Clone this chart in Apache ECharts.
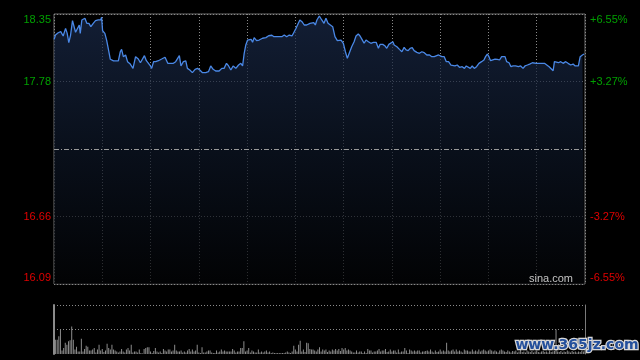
<!DOCTYPE html>
<html><head><meta charset="utf-8">
<script src="https://cdn.jsdelivr.net/npm/echarts@6/dist/echarts.min.js"></script>
<style>html,body{margin:0;padding:0;background:#000;}#c{width:640px;height:360px;}</style>
</head><body><div id="c"></div>
<script>
// minutes since 09:30 (HK session, 330 trading minutes)
const minutes = [
0.1,0.9,2.6,4.2,5.7,7.2,8.2,9.2,10.3,11.5,
12.3,13.4,14.6,15.7,16.3,17.3,19.2,20.4,21.7,22.9,
24.4,25.8,27.5,29.0,29.6,30.2,31.6,32.7,33.7,35.0,
35.8,37.0,40.0,41.2,42.0,43.1,44.5,45.7,47.4,49.1,
50.7,52.4,53.7,54.9,56.2,57.4,58.6,59.9,60.7,61.9,
63.2,64.9,66.9,69.0,70.7,72.7,74.2,75.6,76.7,77.9,
78.9,80.4,81.9,82.9,84.4,86.0,87.7,89.2,90.6,92.3,
94.3,96.0,97.4,98.9,100.5,102.6,104.3,105.7,107.2,108.5,
109.9,111.3,113.0,114.7,116.1,117.2,118.2,119.2,120.3,121.3,
122.5,123.4,124.4,125.9,127.5,129.6,131.7,133.4,134.2,135.4,
136.7,137.9,139.2,140.4,141.6,143.1,144.6,146.2,147.9,149.3,
150.4,151.6,152.8,154.1,155.5,157.0,158.0,159.1,160.3,161.4,
162.4,163.4,164.9,166.4,167.8,169.0,170.3,171.5,173.2,174.6,
176.1,177.3,178.4,179.8,181.1,182.3,183.5,185.0,186.5,187.7,
189.1,190.2,191.4,192.7,193.9,195.4,196.9,198.5,200.2,201.6,
202.7,204.3,205.8,206.8,208.1,209.3,210.6,211.4,213.1,214.7,
216.2,217.6,218.8,220.1,221.3,222.6,223.8,225.5,227.1,228.6,
230.1,231.7,233.4,234.8,236.3,237.5,239.0,240.0,241.1,242.5,
243.8,245.2,246.7,247.9,249.2,250.6,252.0,253.7,255.1,256.2,
257.4,258.7,259.9,261.2,262.6,264.1,265.7,267.2,268.2,269.3,
270.3,271.3,272.4,274.1,275.5,276.9,278.2,279.2,280.3,281.3,
282.8,284.0,285.3,286.9,288.6,290.0,291.5,292.7,294.2,295.6,
297.3,298.5,299.8,301.0,302.3,303.5,304.8,306.0,307.7,308.9,
310.2,311.0,312.2,313.5,314.9,316.4,318.0,319.5,321.1,322.6,
323.9,325.1,325.9,327.0,328.4,329.5
];
const prices = [
18.138,18.174,18.193,18.202,18.166,18.230,18.188,18.110,18.174,18.294,
18.294,18.197,18.197,18.258,18.188,18.300,18.314,18.272,18.272,18.244,
18.272,18.294,18.300,18.300,18.322,18.210,18.188,18.132,18.063,17.971,
17.984,17.957,17.957,18.034,18.054,17.993,18.007,17.951,17.931,17.895,
17.993,17.973,17.942,17.942,18.001,17.959,17.959,17.915,17.895,17.951,
17.951,17.959,17.973,17.988,17.937,17.937,17.937,17.951,17.937,18.001,
17.915,17.951,17.957,17.895,17.881,17.859,17.887,17.895,17.881,17.859,
17.859,17.867,17.915,17.887,17.873,17.873,17.895,17.895,17.937,17.915,
17.881,17.915,17.895,17.923,17.937,17.915,18.021,18.091,18.132,18.127,
18.138,18.113,18.152,18.127,18.132,18.147,18.152,18.168,18.155,18.172,
18.160,18.174,18.160,18.174,18.160,18.174,18.160,18.174,18.166,18.202,
18.230,18.222,18.300,18.286,18.258,18.258,18.244,18.272,18.272,18.277,
18.258,18.300,18.333,18.300,18.272,18.314,18.272,18.286,18.244,18.160,
18.127,18.118,18.132,18.105,18.034,17.979,17.993,18.076,18.118,18.166,
18.183,18.166,18.138,18.105,18.132,18.118,18.105,18.113,18.113,18.063,
18.096,18.096,18.082,18.063,18.096,18.110,18.118,18.091,18.076,18.054,
18.034,18.071,18.049,18.043,18.063,18.068,18.043,18.029,18.021,18.034,
18.026,18.007,18.007,17.993,17.993,17.979,18.007,18.021,17.993,17.993,
17.951,17.951,17.923,17.937,17.915,17.923,17.904,17.909,17.895,17.915,
17.931,17.895,17.915,17.895,17.909,17.937,17.951,17.965,17.993,18.015,
17.993,17.959,17.973,17.973,17.971,17.965,17.993,17.979,17.993,17.951,
17.942,17.909,17.915,17.915,17.909,17.915,17.895,17.915,17.923,17.931,
17.942,17.951,17.937,17.946,17.937,17.951,17.937,17.923,17.909,17.895,
17.875,17.951,17.937,17.942,17.951,17.937,17.951,17.937,17.923,17.931,
17.915,17.931,17.915,17.993,18.007,18.015
];
// per-minute volume, relative units (100 = top of the volume panel)
const volumes = [
100,
29,29,36,49,7,12,23,19,26,28,
56,29,9,15,5,5,31,5,10,17,
15,7,7,9,12,3,9,19,7,10,4,
7,21,12,9,19,9,7,5,3,5,
10,5,3,9,12,7,19,3,5,5,
3,9,2,1,10,12,14,14,5,2,6,
12,5,3,5,2,10,7,5,9,9,
5,7,19,7,5,5,7,3,5,3,
7,10,5,9,5,7,19,3,2,14,3,
3,5,7,7,3,2,2,7,3,5,
9,5,7,5,5,5,5,10,7,3,5,
5,12,12,26,5,7,12,3,7,5,
3,3,9,3,5,3,5,7,3,5,2,
3,2,2,2,2,2,2,2,3,5,
3,2,5,17,9,5,19,27,5,9,4,
23,22,10,9,9,7,5,9,
14,5,9,7,9,4,7,5,9,7,
10,7,10,6,12,9,12,7,9,7,
5,3,3,7,3,5,5,2,5,2,
10,7,7,3,5,5,7,10,5,7,
7,10,4,5,9,5,7,7,3,9,
3,5,5,12,7,2,9,7,5,7,
5,7,7,3,5,5,6,7,5,9,
5,3,7,4,5,9,5,7,5,23,
7,5,7,9,5,9,5,7,5,3,
9,7,7,5,5,9,5,7,5,9,
5,7,9,7,5,7,9,7,5,7,
5,3,7,9,7,5,4,7,5,3,
6,
5,7,3,5,9,4,5,3,7,5,
4,6,3,5,7,4,3,5,6,4,
5,3,7,4,5,6,50,5,4,6,
3,5,4,7,5,3,6,4,5,3,
5,4,6,5,8
];
const priceMin = 16.09, priceMax = 18.35, preClose = 17.22;
const leftTickLabels = ['16.09', '16.66', '', '17.78', '18.35'];
const rightTickLabels = ['-6.55%', '-3.27%', '', '+3.27%', '+6.55%'];
const sessionMinutes = 330;

const GREEN = '#00a000', RED = '#e00000';
const FONT = "'Liberation Sans', Arial, sans-serif";
const richStyles = {
  g: {color: GREEN, fontSize: 11, fontFamily: FONT},
  r: {color: RED, fontSize: 11, fontFamily: FONT},
  gT: {color: GREEN, fontSize: 11, fontFamily: FONT, padding: [12, 0, 0, 0]},
  rB: {color: RED, fontSize: 11, fontFamily: FONT, padding: [0, 0, 12, 0]}
};
function tickFormatter(labels) {
  return function (v) {
    const i = Math.round(v);
    const t = labels[i];
    if (!t) return '';
    const cls = (i >= 3 ? 'g' : 'r') + (i === 4 ? 'T' : (i === 0 ? 'B' : ''));
    return '{' + cls + '|' + t + '}';
  };
}
const volCategories = volumes.map((_, i) => i);
const GRIDC = '#8a8a8a';

const chart = echarts.init(document.getElementById('c'), null, {renderer: 'canvas'});
chart.setOption({
  backgroundColor: '#000',
  animation: false,
  grid: [
    {left: 54, right: 55, top: 14, height: 270, show: true, borderColor: '#6e6e6e', borderWidth: 1, backgroundColor: 'transparent'},
    {left: 54, right: 55, top: 305, bottom: 6}
  ],
  xAxis: [
    {type: 'value', gridIndex: 0, min: 0, max: sessionMinutes, interval: 30,
     axisLine: {show: false}, axisTick: {show: false}, axisLabel: {show: false},
     splitLine: {show: true, lineStyle: {color: GRIDC, type: [1, 2], width: 1}}},
    {type: 'category', gridIndex: 1, data: volCategories, boundaryGap: false,
     axisLine: {show: false}, axisTick: {show: false}, axisLabel: {show: false}, splitLine: {show: false}}
  ],
  yAxis: [
    {type: 'value', gridIndex: 0, min: priceMin, max: priceMax, show: false},
    {type: 'value', gridIndex: 0, min: 0, max: 4, interval: 1, position: 'left',
     axisLine: {show: false}, axisTick: {show: false},
     axisLabel: {margin: 3, formatter: tickFormatter(leftTickLabels), rich: richStyles},
     splitLine: {show: true, lineStyle: {color: [GRIDC, GRIDC, 'transparent', GRIDC, GRIDC], type: [1, 2], width: 1}}},
    {type: 'value', gridIndex: 0, min: 0, max: 4, interval: 1, position: 'right',
     axisLine: {show: false}, axisTick: {show: false},
     axisLabel: {margin: 5, formatter: tickFormatter(rightTickLabels), rich: richStyles},
     splitLine: {show: false}},
    {type: 'value', gridIndex: 1, min: 0, max: 100, interval: 50, position: 'left',
     axisLine: {show: true, lineStyle: {color: '#8a8a8a', width: 2}}, axisTick: {show: false}, axisLabel: {show: false},
     splitLine: {show: true, lineStyle: {color: ['transparent', GRIDC, GRIDC], type: [1, 2], width: 1}}},
    {type: 'value', gridIndex: 1, min: 0, max: 100, position: 'right',
     axisLine: {show: true, lineStyle: {color: '#7a7a7a', width: 1}}, axisTick: {show: false}, axisLabel: {show: false},
     splitLine: {show: false}}
  ],
  series: [
    {type: 'line', xAxisIndex: 0, yAxisIndex: 0,
     data: minutes.map((m, i) => [m, prices[i]]),
     showSymbol: false, symbol: 'none',
     lineStyle: {color: '#4a88e6', width: 1.3},
     areaStyle: {color: new echarts.graphic.LinearGradient(0, 0, 0, 1, [
       {offset: 0, color: '#1a2a4a'}, {offset: 0.5, color: '#0d1626'}, {offset: 1, color: '#030406'}])},
     markLine: {silent: true, symbol: 'none', label: {show: false},
       lineStyle: {color: '#9a9a9a', type: [5, 2, 1, 2], width: 1},
       data: [{yAxis: preClose}]}},
    {type: 'bar', xAxisIndex: 1, yAxisIndex: 3, data: volumes, barWidth: 1,
     itemStyle: {color: '#8c8c8c'}}
  ],
  graphic: [
    {type: 'text', x: 573, y: 279, silent: true, z: 100,
     style: {text: 'sina.com', fill: '#c4c4c4', fontSize: 11, fontFamily: FONT, align: 'right', verticalAlign: 'middle'}},
    {type: 'text', x: 577, y: 345, silent: true, z: 100,
     style: {text: 'www.365jz.com', fill: '#24509c', stroke: '#d8d8d8', lineWidth: 2.5,
       fontSize: 14, fontWeight: 'bold', fontFamily: "'DejaVu Sans', sans-serif", align: 'center', verticalAlign: 'middle'}}
  ]
});
</script>
</body></html>
